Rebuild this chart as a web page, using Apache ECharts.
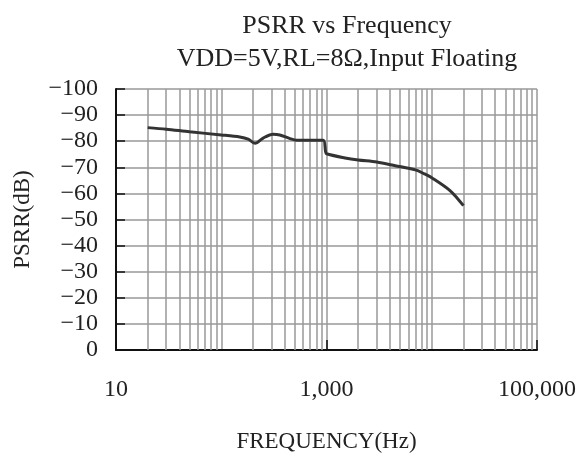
<!DOCTYPE html>
<html>
<head>
<meta charset="utf-8">
<script src="https://cdn.jsdelivr.net/npm/echarts@6/dist/echarts.min.js"></script>
<style>html,body{margin:0;padding:0;background:#fff;}#c{width:586px;height:465px;}</style>
</head>
<body>
<div id="c"></div>
<script>
// Data
var freqHz = [20, 30, 50, 100, 150, 180, 210, 250, 310, 360, 450, 520, 700, 930, 980, 1000, 1500, 2000, 3000, 4500, 7000, 8500, 10000, 15000, 20000];
var psrrDb = [-85.2, -84.6, -83.6, -82.4, -81.6, -80.8, -79.2, -81.2, -82.7, -82.4, -81.0, -80.4, -80.4, -80.4, -76.0, -75.2, -73.6, -72.8, -72.0, -70.6, -69.0, -67.5, -66.0, -61.0, -55.3];
var xTickLabels = {10: '10', 1000: '1,000', 100000: '100,000'};
var titleLine1 = 'PSRR vs Frequency';
var titleLine2 = 'VDD=5V,RL=8\u03A9,Input Floating';

var font = 'Liberation Serif';
var minorFreqs = [];
[10, 100, 1000, 10000].forEach(function (d) {
  for (var k = 2; k <= 9; k++) minorFreqs.push(d * k);
});

var chart = echarts.init(document.getElementById('c'));
chart.setOption({
  backgroundColor: '#fff',
  animation: false,
  title: [
    {text: titleLine1, left: 342, top: 8, textAlign: 'center',
     textStyle: {fontFamily: font, fontSize: 26, fontWeight: 'normal', color: '#222'}},
    {text: titleLine2, left: 342, top: 41, textAlign: 'center',
     textStyle: {fontFamily: font, fontSize: 26, fontWeight: 'normal', color: '#222'}}
  ],
  grid: {left: 116, right: 49, top: 89, bottom: 115},
  xAxis: [{
    type: 'log', logBase: 10, min: 10, max: 100000,
    name: 'FREQUENCY(Hz)', nameLocation: 'middle', nameGap: 80,
    nameTextStyle: {fontFamily: font, fontSize: 23, color: '#222'},
    axisLine: {show: true, lineStyle: {color: '#111', width: 2}},
    axisTick: {show: false},
    axisLabel: {
      margin: 28, fontFamily: font, fontSize: 24, color: '#222',
      formatter: function (v) { return xTickLabels[Math.round(v)] || ''; }
    },
    splitLine: {show: true, lineStyle: {color: '#999', width: 1.5}}
  }, {
    type: 'log', logBase: 10, min: 10, max: 100000, interval: 2, position: 'bottom',
    axisLine: {show: false},
    axisTick: {show: true, inside: true, length: 10, lineStyle: {color: '#111', width: 1.5}},
    axisLabel: {show: false},
    splitLine: {show: false}
  }],
  yAxis: {
    type: 'value', inverse: true, min: -100, max: 0, interval: 10,
    name: 'PSRR(dB)', nameLocation: 'middle', nameGap: 82, nameRotate: 90,
    nameTextStyle: {fontFamily: font, fontSize: 23, color: '#222'},
    axisLine: {show: true, lineStyle: {color: '#111', width: 2}},
    axisTick: {show: true, inside: true, length: 9, lineStyle: {color: '#111', width: 1.5}},
    axisLabel: {
      margin: 18, fontFamily: font, fontSize: 24, color: '#222',
      formatter: function (v) { return String(v).replace('-', '\u2212'); }
    },
    splitLine: {show: true, lineStyle: {color: '#999', width: 1.5}}
  },
  series: [
    {
      type: 'line', data: [], z: 1, silent: true,
      markLine: {
        silent: true, symbol: 'none', label: {show: false},
        lineStyle: {color: '#999', width: 1.5, type: 'solid'},
        data: minorFreqs.map(function (f) { return {xAxis: f}; })
      }
    },
    {
      type: 'line', z: 5, showSymbol: false, smooth: 0.3,
      data: freqHz.map(function (f, i) { return [f, psrrDb[i]]; }),
      lineStyle: {color: '#333', width: 3}
    }
  ]
});
</script>
</body>
</html>
